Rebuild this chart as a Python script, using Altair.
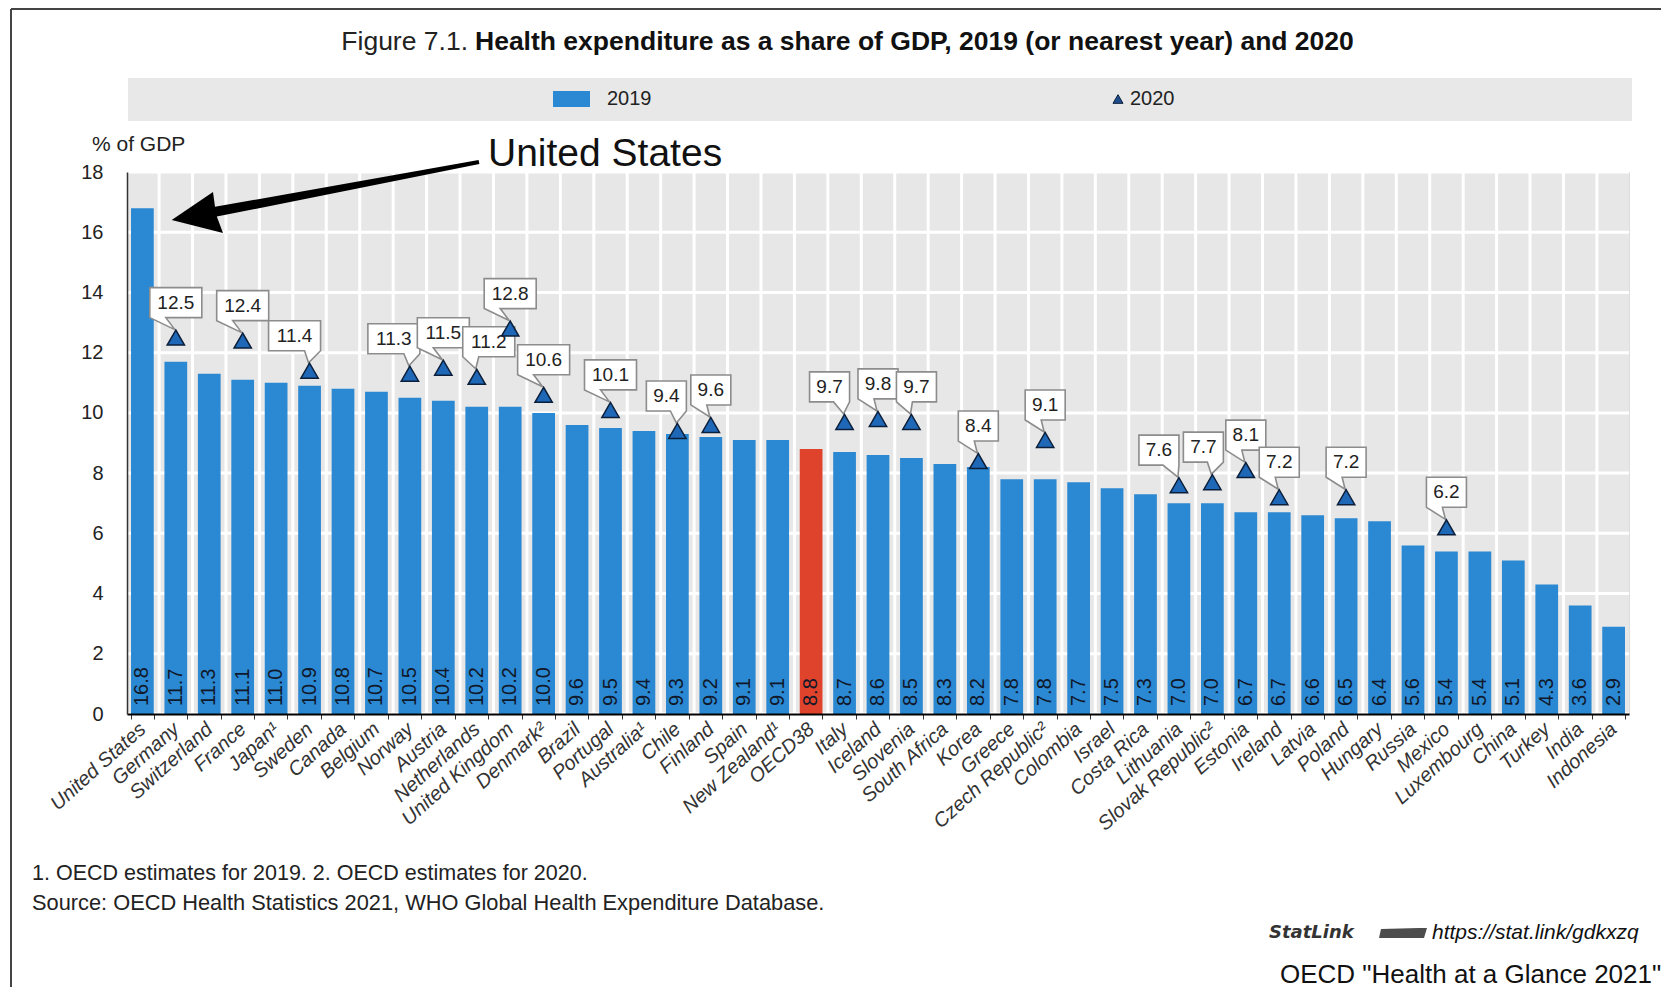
import altair as alt
import pandas as pd

countries = ["United States", "Germany", "Switzerland", "France", "Japan¹", "Sweden", "Canada",
             "Belgium", "Norway", "Austria", "Netherlands", "United Kingdom", "Denmark²", "Brazil",
             "Portugal", "Australia¹", "Chile", "Finland", "Spain", "New Zealand¹", "OECD38", "Italy",
             "Iceland", "Slovenia", "South Africa", "Korea", "Greece", "Czech Republic²", "Colombia",
             "Israel", "Costa Rica", "Lithuania", "Slovak Republic²", "Estonia", "Ireland", "Latvia",
             "Poland", "Hungary", "Russia", "Mexico", "Luxembourg", "China", "Turkey", "India", "Indonesia"]
v2019 = [16.8, 11.7, 11.3, 11.1, 11.0, 10.9, 10.8, 10.7, 10.5, 10.4, 10.2, 10.2, 10.0, 9.6, 9.5,
         9.4, 9.3, 9.2, 9.1, 9.1, 8.8, 8.7, 8.6, 8.5, 8.3, 8.2, 7.8, 7.8, 7.7, 7.5, 7.3, 7.0, 7.0,
         6.7, 6.7, 6.6, 6.5, 6.4, 5.6, 5.4, 5.4, 5.1, 4.3, 3.6, 2.9]
v2020 = [None, 12.5, None, 12.4, None, 11.4, None, None, 11.3, 11.5, 11.2, 12.8, 10.6, None, 10.1,
         None, 9.4, 9.6, None, None, None, 9.7, 9.8, 9.7, None, 8.4, None, 9.1, None, None, None,
         7.6, 7.7, 8.1, 7.2, None, 7.2, None, None, 6.2, None, None, None, None, None]
y_ticks = [0, 2, 4, 6, 8, 10, 12, 14, 16, 18]

title_a = "Figure 7.1."
title_b = "Health expenditure as a share of GDP, 2019 (or nearest year) and 2020"
note1 = "1. OECD estimates for 2019. 2. OECD estimates for 2020."
note2 = "Source: OECD Health Statistics 2021, WHO Global Health Expenditure Database."

# horizontal nudges (px) of the callout boxes so that crowded labels stay readable
callout_nudge = {"Sweden": -15, "Norway": -16, "Netherlands": 12, "Chile": -11,
                 "Italy": -15, "Slovenia": 5, "Lithuania": -20, "Slovak Republic²": -9}

df = pd.DataFrame({"country": countries, "v2019": v2019, "v2020": v2020})
grid_df = pd.DataFrame({"t": y_ticks})

FONT = "Liberation Sans, Arial, Helvetica, sans-serif"
BLUE = "#2b88d2"
RED = "#e0432b"
PANEL = "#e7e7e7"
W, H = 1502, 542
P_IN, P_OUT = 0.32, 0.12
half_step = W / (len(countries) - P_IN + 2 * P_OUT) / 2

base = alt.Chart(df).encode(
    x=alt.X("country:N", sort=countries,
            scale=alt.Scale(paddingInner=P_IN, paddingOuter=P_OUT),
            axis=alt.Axis(title=None, labelAngle=-42, labelAlign="right", labelBaseline="middle",
                          labelPadding=7, labelFontSize=20, labelFontStyle="italic",
                          labelColor="#333333", labelFont=FONT, labelOverlap=False,
                          tickBand="extent", tickSize=5, tickColor="#333333", grid=False,
                          domainColor="black", domainWidth=2, zindex=2))
)

yscale = alt.Scale(domain=[0, 18], nice=False)
yaxis = alt.Axis(title=None, values=y_ticks, labelFontSize=20, labelColor="#222222", labelFont=FONT,
                 labelPadding=24, ticks=False, grid=False,
                 domainColor="#333333", domainWidth=1.5, zindex=2)

one = alt.Data(values=[{}])

panel = alt.Chart(one).mark_rect(color=PANEL).encode(
    x=alt.value(0), x2=alt.value(W), y=alt.value(0), y2=alt.value(H))
hgrid = alt.Chart(grid_df).mark_rule(color="#ffffff", strokeWidth=3, opacity=1).encode(
    y=alt.Y("t:Q", scale=yscale, axis=yaxis))
vgrid = base.mark_rule(color="#ffffff", strokeWidth=3, opacity=1, xOffset=-half_step).encode(
    y=alt.value(0), y2=alt.value(H))

bars = base.mark_bar().encode(
    y=alt.Y("v2019:Q", scale=yscale, axis=yaxis),
    color=alt.condition(alt.datum.country == "OECD38", alt.value(RED), alt.value(BLUE)),
)

bar_text = base.mark_text(angle=270, align="left", baseline="middle", dx=8, fontSize=20,
                          font=FONT, color="#10182a").encode(
    y=alt.datum(0),
    text=alt.Text("v2019:Q", format=".1f"),
)


def callout_path(hw, dx):
    left, right = dx - hw, dx + hw
    top, bottom = -50, -20
    if dx >= 0:
        a, b = left, left + 16
    else:
        a, b = right - 16, right
    return (f"M{left},{top} L{right},{top} L{right},{bottom} L{b},{bottom} "
            f"L-1,-8 L{a},{bottom} L{left},{bottom} Z")


callouts = []
for c, v in zip(countries, v2020):
    if v is None:
        continue
    nudge = callout_nudge.get(c, 0)
    hw = 26 if v >= 10 else 20
    sub = base.transform_filter(alt.datum.country == c)
    callouts.append(sub.mark_point(shape=callout_path(hw, nudge), size=4, filled=True,
                                   fill="white", stroke="#8c8c8c", strokeWidth=1.6, opacity=1)
                    .encode(y=alt.Y("v2020:Q")))
    callouts.append(sub.mark_text(dy=-35, dx=nudge, fontSize=19, font=FONT, color="#222222")
                    .encode(y=alt.Y("v2020:Q"), text=alt.Text("v2020:Q", format=".1f")))

tri = base.transform_filter("isValid(datum.v2020)").mark_point(
    shape="triangle-up", size=300, filled=True, fill="#1f68b8", stroke="#0b1f3a",
    strokeWidth=1.5, opacity=1).encode(y=alt.Y("v2020:Q"))


def txt(s, x, y, size, **kw):
    kw.setdefault("font", FONT)
    return alt.Chart(one).mark_text(text=s, fontSize=size, **kw).encode(
        x=alt.value(x), y=alt.value(y))


legend_band = alt.Chart(one).mark_rect(color="#e8e8e8").encode(
    x=alt.value(1), x2=alt.value(1505), y=alt.value(-94), y2=alt.value(-51))
legend_sq = alt.Chart(one).mark_rect(color=BLUE).encode(
    x=alt.value(426), x2=alt.value(463), y=alt.value(-81), y2=alt.value(-65))
legend_tri = alt.Chart(one).mark_point(shape="triangle-up", size=100, filled=True, fill="#1f4e8c",
                                       stroke="#0b1f3a", strokeWidth=1, opacity=1).encode(
    x=alt.value(991), y=alt.value(-73))

arrow = alt.Chart(one).mark_point(
    shape="M44.7,48 L86,20 L88,34.8 L351.6,-12 L352.4,-8 L89.8,44.6 L96,61 Z",
    size=4, filled=True, fill="black", opacity=1).encode(x=alt.value(0), y=alt.value(0))

icon = alt.Chart(one).mark_point(
    shape="M-22,-4 L16,-5 L24,-5 L21,5 L-24,5 Z",
    size=4, filled=True, fill="#4d4d4d", opacity=1).encode(x=alt.value(1276), y=alt.value(761))

border_top = alt.Chart(one).mark_rule(color="#444444", strokeWidth=2).encode(
    x=alt.value(-116), x2=alt.value(1540), y=alt.value(-163))
border_left = alt.Chart(one).mark_rule(color="#444444", strokeWidth=2).encode(
    x=alt.value(-116), y=alt.value(-163), y2=alt.value(815))

texts = [
    txt(title_a, 341, -130, 26.5, align="right", baseline="middle", color="#222222"),
    txt(title_b, 348, -130, 26.5, align="left", baseline="middle", fontWeight="bold", color="#111111"),
    txt("2019", 480, -73, 20, align="left", baseline="middle", color="#222222"),
    txt("2020", 1003, -73, 20, align="left", baseline="middle", color="#222222"),
    txt("% of GDP", -35, -27, 21, align="left", baseline="middle", color="#222222"),
    txt("United States", 361, -18, 39, align="left", baseline="middle", color="#111111"),
    txt(note1, -95, 702, 21.5, align="left", baseline="middle", color="#222222"),
    txt(note2, -95, 731, 21.8, align="left", baseline="middle", color="#222222"),
    txt("StatLink", 1142, 761, 18, align="left", baseline="middle", color="#333333",
        fontStyle="italic", fontWeight="bold", font="DejaVu Sans, Verdana, sans-serif"),
    txt("https://stat.link/gdkxzq", 1305, 761, 21, align="left", baseline="middle",
        color="#111111", fontStyle="italic"),
    txt('OECD "Health at a Glance 2021"', 1153, 803, 26, align="left", baseline="middle",
        color="#111111"),
]

chart = alt.layer(
    panel, hgrid, vgrid, legend_band, legend_sq, legend_tri, border_top, border_left,
    bars, bar_text, *callouts, tri, arrow, icon, *texts
).properties(
    width=W, height=H,
    autosize=alt.AutoSizeParams(type="none"),
    padding={"left": 119, "top": 164, "right": 32, "bottom": 276},
).configure_view(
    strokeWidth=0
).configure(background="white")

chart.save("out.html", embed_options={"renderer": "svg", "actions": False})
